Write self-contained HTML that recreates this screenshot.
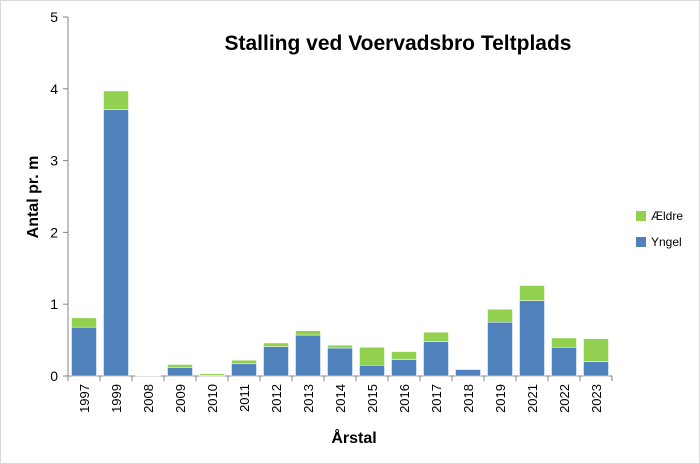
<!DOCTYPE html>
<html><head><meta charset="utf-8"><style>
body{margin:0;background:#fff;font-family:"Liberation Sans",sans-serif}
</style></head><body>
<svg id="c" width="700" height="464" style="display:block">
<rect x="0.5" y="0.5" width="699" height="463" fill="#fff" stroke="#d9d9d9"/>
<text x="398" y="50" text-anchor="middle" font-size="21" font-weight="bold">Stalling ved Voervadsbro Teltplads</text>
<text x="354" y="443" text-anchor="middle" font-size="16" font-weight="bold">Årstal</text>
<text transform="translate(38,197) rotate(-90)" text-anchor="middle" font-size="16" font-weight="bold">Antal pr. m</text>
<g id="plot"></g>
<g>
<rect x="636" y="211" width="10" height="10" fill="#92d050"/>
<text x="651" y="220" font-size="12">Ældre</text>
<rect x="636" y="237" width="10" height="10" fill="#4f81bd"/>
<text x="651" y="246" font-size="12">Yngel</text>
</g>
</svg>
<script>
const categories=["1997","1999","2008","2009","2010","2011","2012","2013","2014","2015","2016","2017","2018","2019","2021","2022","2023"];
const yngel=[0.68,3.71,0.005,0.12,0.01,0.17,0.41,0.57,0.39,0.15,0.23,0.48,0.09,0.75,1.05,0.40,0.20];
const aeldre=[0.13,0.26,0.005,0.04,0.02,0.05,0.05,0.06,0.04,0.25,0.11,0.13,0.0,0.18,0.21,0.13,0.32];
const yTicks=[0,1,2,3,4,5];
const ns="http://www.w3.org/2000/svg";
const g=document.getElementById('plot');
const x0=68,x1=612,yb=376,yt=17;
const band=(x1-x0)/categories.length;
const xs=i=>x0+i*band;
const ys=v=>yb-(v/5)*(yb-yt);
function mk(t,a){const e=document.createElementNS(ns,t);for(const k in a)e.setAttribute(k,a[k]);g.appendChild(e);return e;}
const ya=mk('line',{x1:x0,y1:yt,x2:x0,y2:yb,stroke:'#868686'});


yTicks.forEach(v=>{
 const t=mk('line',{x1:x0-5,x2:x0,y1:ys(v),y2:ys(v),stroke:'#868686'});
 
 
 const l=mk('text',{x:x0-10,y:ys(v)+5,'text-anchor':'end','font-size':'14'});
 l.textContent=v;
 
 
});
const xa=mk('line',{x1:x0,y1:yb,x2:x1,y2:yb,stroke:'#868686'});


categories.forEach((c,i)=>{
 const t=mk('line',{x1:xs(i),x2:xs(i),y1:yb,y2:yb+5,stroke:'#868686'});
 
 
 const bw=25,bx=xs(i)+(band-bw)/2;
 const b1=mk('rect',{x:bx,y:ys(yngel[i]),width:bw,height:yb-ys(yngel[i]),fill:'#4f81bd',stroke:'#fff','stroke-width':0.5});
 
 
 const tot=yngel[i]+aeldre[i];
 const b2=mk('rect',{x:bx,y:ys(tot),width:bw,height:ys(yngel[i])-ys(tot),fill:'#92d050',stroke:'#fff','stroke-width':0.5});
 
 
 const cx=xs(i)+band/2+5;
 const l=mk('text',{x:cx,y:yb+8,'text-anchor':'end','font-size':'13',transform:`rotate(-90 ${cx} ${yb+8})`});
 l.textContent=c;
 
 
});
const lt=mk('line',{x1:x1,x2:x1,y1:yb,y2:yb+5,stroke:'#868686'});


</script>
</body></html>
